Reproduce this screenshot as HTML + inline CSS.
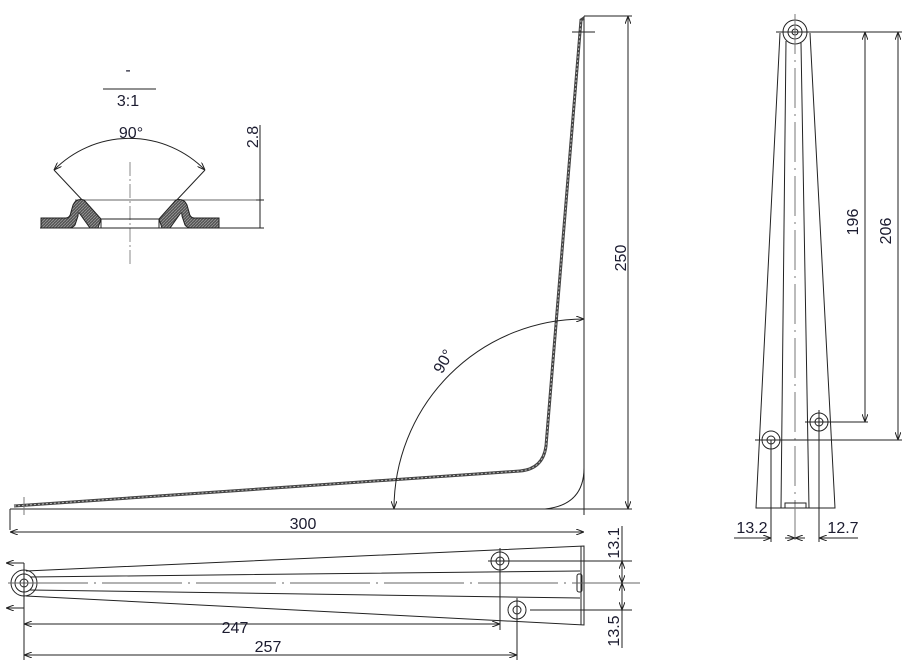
<!DOCTYPE html>
<html><head><meta charset="utf-8"><style>
html,body{margin:0;padding:0;background:#fff;}
svg{display:block;}
text{font-family:"Liberation Sans",sans-serif;font-size:16px;fill:#1c1c30;}
</style></head><body>
<svg width="917" height="671" viewBox="0 0 917 671" xmlns="http://www.w3.org/2000/svg">
<defs>
<pattern id="h" width="3" height="3" patternUnits="userSpaceOnUse"><rect width="3" height="3" fill="#555"/><path d="M0,3 L3,0" stroke="#999" stroke-width="0.8"/></pattern>
<marker id="a" markerWidth="8" markerHeight="6" refX="8" refY="3" orient="auto-start-reverse" markerUnits="userSpaceOnUse"><path d="M0,0 L8,3 L0,6" fill="none" stroke="#222" stroke-width="1"/></marker>
</defs>
<g stroke="#222" fill="none" stroke-width="1">
<line x1="103" y1="89" x2="156" y2="89"/>
<path d="M54,170 A106,106 0 0 1 205,170" marker-start="url(#a)" marker-end="url(#a)"/>
<line x1="54" y1="170" x2="85" y2="203"/>
<line x1="205" y1="170" x2="174" y2="203"/>
<line x1="130" y1="162" x2="130" y2="264" stroke="#888" stroke-dasharray="14,3,2,3"/>
<line x1="75" y1="200" x2="264" y2="200" stroke="#666"/>
<line x1="40" y1="228" x2="264" y2="228"/>
<line x1="260" y1="125" x2="260" y2="228"/>
<line x1="256" y1="200" x2="264" y2="200"/>
<path d="M41,218 L66,218 Q70,218 71,212 L73,205 Q76,198 84,200 L101,219 L98,228 L90,228 L80,214 Q78,211 78,216 L75,225 Q73,228 68,228 L41,228 Z" fill="url(#h)" stroke="#222"/>
<path d="M219,218 L194,218 Q190,218 189,212 L187,205 Q184,198 176,200 L159,219 L162,228 L170,228 L180,214 Q182,211 182,216 L185,225 Q187,228 192,228 L219,228 Z" fill="url(#h)" stroke="#222"/>
<rect x="101" y="219" width="58" height="9"/>
<line x1="584" y1="16" x2="584" y2="515"/>
<line x1="584" y1="16" x2="632" y2="16"/>
<line x1="10" y1="509" x2="632" y2="509"/>
<line x1="10" y1="509" x2="10" y2="530"/>
<path d="M545,509 Q584,505 584,468"/>
<path d="M14,506 L520,471 Q543,469 546,446 L581,20 L584,18" stroke="#444" stroke-width="3"/>
<path d="M14,506 L520,471 Q543,469 546,446 L581,20" stroke="#bbb" stroke-width="1" stroke-dasharray="2,2"/>
<line x1="572" y1="32" x2="595" y2="32"/>
<line x1="24" y1="497" x2="24" y2="515" stroke="#777"/>
<line x1="628" y1="16" x2="628" y2="509" marker-start="url(#a)" marker-end="url(#a)"/>
<line x1="10" y1="532" x2="584" y2="532" marker-start="url(#a)" marker-end="url(#a)"/>
<path d="M394,509 A190,190 0 0 1 584,319" marker-start="url(#a)" marker-end="url(#a)"/>
<path d="M26,571 L584,546 L584,625 L26,596"/>
<line x1="581" y1="546" x2="581" y2="625"/>
<path d="M30,577 L580,571 M30,590 L580,598"/>
<circle cx="24" cy="583" r="13"/><circle cx="24" cy="583" r="9"/><circle cx="24" cy="583" r="4"/>
<circle cx="500" cy="561" r="9"/><circle cx="500" cy="561" r="4"/>
<circle cx="517" cy="610" r="9"/><circle cx="517" cy="610" r="4"/>
<rect x="577" y="574" width="5" height="18" rx="2"/>
<line x1="8" y1="583" x2="640" y2="583" stroke="#666" stroke-dasharray="80,6,2,6"/>
<line x1="24" y1="563" x2="24" y2="660"/>
<line x1="24" y1="563" x2="6" y2="563" marker-end="url(#a)"/>
<line x1="24" y1="608" x2="6" y2="608" marker-end="url(#a)"/>
<line x1="500" y1="548" x2="500" y2="630"/>
<line x1="517" y1="598" x2="517" y2="660"/>
<line x1="488" y1="561" x2="632" y2="561"/>
<line x1="530" y1="610" x2="632" y2="610"/>
<line x1="24" y1="624" x2="500" y2="624" marker-start="url(#a)" marker-end="url(#a)"/>
<line x1="24" y1="655" x2="517" y2="655" marker-start="url(#a)" marker-end="url(#a)"/>
<line x1="622" y1="526" x2="622" y2="648"/>
<line x1="622" y1="575" x2="622" y2="561" marker-end="url(#a)"/>
<line x1="622" y1="575" x2="622" y2="583" marker-end="url(#a)"/>
<line x1="622" y1="595" x2="622" y2="583" marker-end="url(#a)"/>
<line x1="622" y1="600" x2="622" y2="610" marker-end="url(#a)"/>
<path d="M780,33 L756,508 L835,508 L810,33"/>
<path d="M786,41 L781,508 M801,43 L809,508"/>
<circle cx="795" cy="32" r="12" fill="#fff"/><circle cx="795" cy="32" r="7"/><circle cx="795" cy="32" r="3"/>
<line x1="795" y1="14" x2="795" y2="540" stroke="#777" stroke-dasharray="40,6,2,6"/>
<line x1="776" y1="32" x2="902" y2="32"/>
<circle cx="771" cy="440" r="9"/><circle cx="771" cy="440" r="4"/>
<circle cx="819" cy="422" r="9"/><circle cx="819" cy="422" r="4"/>
<line x1="755" y1="440" x2="902" y2="440"/>
<line x1="805" y1="422" x2="868" y2="422"/>
<line x1="865" y1="32" x2="865" y2="422" marker-start="url(#a)" marker-end="url(#a)"/>
<line x1="898" y1="32" x2="898" y2="440" marker-start="url(#a)" marker-end="url(#a)"/>
<path d="M785,508 L785,503 L806,503 L806,508"/>
<line x1="771" y1="440" x2="771" y2="542"/>
<line x1="819" y1="410" x2="819" y2="542"/>
<line x1="734" y1="538" x2="771" y2="538" marker-end="url(#a)"/>
<line x1="785" y1="538" x2="795" y2="538" marker-end="url(#a)"/>
<line x1="805" y1="538" x2="795" y2="538" marker-end="url(#a)"/>
<line x1="858" y1="538" x2="819" y2="538" marker-end="url(#a)"/>
</g>
<text x="128" y="75" text-anchor="middle">-</text>
<text x="128" y="106" text-anchor="middle">3:1</text>
<text x="131" y="138" text-anchor="middle">90°</text>
<text transform="translate(258,137) rotate(-90)" text-anchor="middle">2.8</text>
<text transform="translate(626,258) rotate(-90)" text-anchor="middle">250</text>
<text x="303" y="529" text-anchor="middle">300</text>
<text transform="translate(448,364) rotate(-60)" text-anchor="middle">90°</text>
<text x="235" y="633" text-anchor="middle">247</text>
<text x="268" y="652" text-anchor="middle">257</text>
<text transform="translate(619,543) rotate(-90)" text-anchor="middle">13.1</text>
<text transform="translate(619,631) rotate(-90)" text-anchor="middle">13.5</text>
<text transform="translate(858,222) rotate(-90)" text-anchor="middle">196</text>
<text transform="translate(891,231) rotate(-90)" text-anchor="middle">206</text>
<text x="752" y="533" text-anchor="middle">13.2</text>
<text x="843" y="533" text-anchor="middle">12.7</text>
</svg>
</body></html>
